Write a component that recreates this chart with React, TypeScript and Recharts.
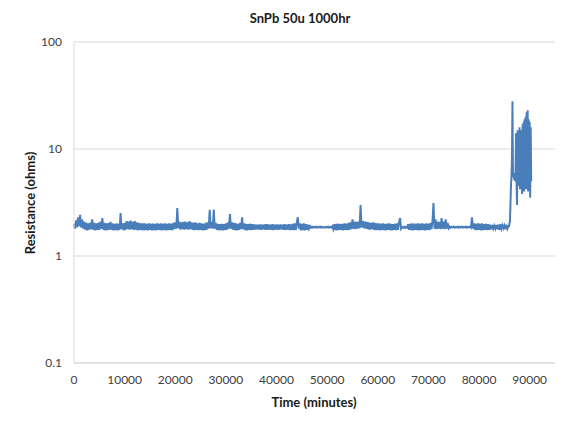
import { LineChart, Line, XAxis, YAxis, CartesianGrid } from "recharts";

// resistance log, stable part, one reading every 200 min
const BASE_START = 0;
const BASE_STEP = 200;
const baseValues: number[] = [
    2.0, 1.8, 2.15, 1.85, 2.3, 1.9, 2.42, 1.85, 2.2, 1.8,
    2.1, 1.76, 2.05, 1.74, 2.02, 1.76, 2.05, 1.78, 2.2, 1.76,
    2.04, 1.74, 2.02, 1.76, 2.04, 1.75, 2.1, 1.8, 2.26, 1.76,
    2.04, 1.74, 2.02, 1.75, 2.03, 1.76, 2.08, 1.76, 2.02, 1.74,
    2.0, 1.75, 2.02, 1.74, 2.0, 1.76, 2.52, 1.78, 2.02, 1.74,
    // 10000
    2.04, 1.76, 2.12, 1.78, 2.1, 1.76, 2.14, 1.78, 2.08, 1.75,
    2.12, 1.76, 2.06, 1.74, 2.04, 1.76, 2.02, 1.75, 2.02, 1.74,
    2.02, 1.75, 2.0, 1.74, 2.02, 1.76, 2.0, 1.74, 2.01, 1.75,
    2.0, 1.74, 2.02, 1.76, 2.0, 1.75, 2.02, 1.74, 2.0, 1.76,
    2.02, 1.74, 2.0, 1.75, 2.02, 1.76, 2.0, 1.74, 2.04, 1.78,
    // 20000
    2.06, 1.8, 2.81, 1.82, 2.1, 1.76, 2.06, 1.78, 2.08, 1.76,
    2.1, 1.78, 2.06, 1.76, 2.12, 1.78, 2.06, 1.76, 2.04, 1.75,
    2.06, 1.76, 2.02, 1.75, 2.04, 1.76, 2.02, 1.74, 2.0, 1.75,
    2.04, 1.76, 2.06, 1.8, 2.7, 1.82, 2.08, 1.8, 2.72, 1.8,
    2.04, 1.76, 2.0, 1.74, 1.98, 1.75, 2.0, 1.74, 1.98, 1.75,
    // 30000
    2.02, 1.76, 2.06, 1.8, 2.47, 1.8, 2.06, 1.76, 2.04, 1.75,
    2.02, 1.74, 2.0, 1.76, 2.04, 1.78, 2.3, 1.78, 2.02, 1.75,
    2.0, 1.74, 1.98, 1.76, 2.0, 1.75, 1.98, 1.76, 1.97, 1.77,
    1.96, 1.78, 1.96, 1.77, 1.97, 1.76, 1.96, 1.78, 1.97, 1.76,
    1.98, 1.76, 1.97, 1.77, 1.96, 1.76, 1.98, 1.75, 1.96, 1.77,
    // 40000
    1.97, 1.76, 1.96, 1.77, 1.97, 1.78, 1.96, 1.76, 1.98, 1.76,
    1.96, 1.77, 1.98, 1.75, 1.97, 1.76, 2.0, 1.75, 2.02, 1.76,
    2.04, 2.3, 1.8, 2.02, 1.74, 2.0, 1.75, 2.02, 1.74, 1.98,
    1.76, 1.96, 1.8, 1.9, 1.84, 1.88, 1.84, 1.87, 1.85, 1.88,
    1.84, 1.87, 1.85, 1.88, 1.84, 1.87, 1.85, 1.86, 1.84, 1.87,
    // 50000
    1.85, 1.88, 1.84, 1.87, 1.85, 1.9, 1.78, 1.98, 1.75, 2.0,
    1.74, 2.0, 1.76, 1.98, 1.75, 2.0, 1.74, 2.02, 1.76, 2.0,
    1.75, 2.04, 1.76, 2.06, 1.78, 2.2, 1.8, 2.1, 1.78, 2.08,
    1.8, 2.1, 1.82, 2.99, 1.85, 2.12, 1.82, 2.1, 1.8, 2.08,
    1.78, 2.06, 1.76, 2.04, 1.78, 2.06, 1.76, 2.04, 1.75, 2.02,
    // 60000
    1.76, 2.02, 1.74, 2.0, 1.76, 2.02, 1.75, 2.0, 1.74, 2.0,
    1.76, 2.02, 1.75, 2.0, 1.74, 1.98, 1.76, 2.0, 1.75, 2.02,
    1.76, 2.06, 2.26, 1.8, 1.86, 1.84, 1.88, 1.83, 1.87, 1.84,
    1.98, 1.76, 2.0, 1.75, 2.02, 1.74, 2.0, 1.76, 2.0, 1.75,
    2.02, 1.74, 2.0, 1.76, 2.02, 1.75, 2.0, 1.74, 2.02, 1.76,
    // 70000
    2.0, 1.75, 2.04, 1.78, 2.1, 3.13, 1.8, 2.2, 1.78, 2.1,
    1.8, 2.08, 1.78, 2.26, 1.8, 2.1, 1.78, 2.2, 1.8, 2.04,
    1.82, 1.88, 1.84, 1.87, 1.85, 1.88, 1.84, 1.87, 1.85, 1.88,
    1.84, 1.87, 1.85, 1.88, 1.84, 1.87, 1.85, 1.88, 1.84, 1.87,
    1.85, 1.88, 1.84, 2.3, 1.8, 2.02, 1.76, 2.0, 1.75, 2.02,
    // 80000
    1.76, 2.0, 1.74, 2.02, 1.75, 1.98, 1.76, 2.0, 1.75, 1.98,
    1.76, 1.96, 1.78, 1.95, 1.8, 1.92, 1.8, 1.95, 1.78, 1.96,
    1.76, 1.98, 1.8, 1.94, 1.82, 1.93, 1.78, 1.96, 1.8, 1.9,
];

// failure, one reading every 100 min
const FAIL_START = 85900;
const FAIL_STEP = 100;
const failValues: number[] = [
    1.9, 2.0, 2.1, 3.0, 4.5, 5.5, 8, 28, 5.5, 6.0,
    5.2, 5.8, 5.0, 5.6, 14, 5.0, 3.0, 15, 4.5, 13,
    4.8, 16, 4.2, 14, 5.0, 15, 3.8, 17, 4.5, 18,
    4.0, 19, 5.0, 20, 4.2, 22, 4.5, 23, 4.0, 19,
    5.0, 18, 3.5, 16, 5.0,
];

const xTicks = [0, 10000, 20000, 30000, 40000, 50000, 60000, 70000, 80000, 90000];
const yTicks = [0.1, 1, 10, 100];

const data = [
    ...baseValues.map((v, i) => ({ t: BASE_START + i * BASE_STEP, r: v })),
    ...failValues.map((v, i) => ({ t: FAIL_START + i * FAIL_STEP, r: v })),
];

const FONT = "Lato, 'Open Sans', sans-serif";

export default function App() {
    return (
        <div style={{ position: "relative", width: 577, height: 421, margin: -8, overflow: "hidden", background: "#fff", fontFamily: FONT }}>
            <div style={{ position: "absolute", left: 5, top: 2, width: 640, height: 480, border: "1px solid #8e8e8e" }} />
            <div style={{ position: "absolute", left: 0, width: 600, top: 10, textAlign: "center", fontWeight: 700, fontSize: 13, color: "#1a1a1a" }}>
                SnPb 50u 1000hr
            </div>
            <div
                style={{
                    position: "absolute",
                    left: 30,
                    top: 203,
                    transform: "translate(-50%, -50%) rotate(-90deg)",
                    whiteSpace: "nowrap",
                    fontWeight: 700,
                    fontSize: 13,
                    color: "#1a1a1a",
                }}
            >
                Resistance (ohms)
            </div>
            <div style={{ position: "absolute", left: 74, width: 480, top: 394, textAlign: "center", fontWeight: 700, fontSize: 13, color: "#1a1a1a" }}>
                Time (minutes)
            </div>
            <div style={{ position: "absolute", left: 0, top: 0 }}>
                <LineChart width={577} height={421} data={data} margin={{ top: 42, right: 22, left: 14, bottom: 28 }}>
                    <CartesianGrid vertical={false} stroke="#d9d9d9" />
                    <XAxis
                        dataKey="t"
                        type="number"
                        domain={[0, 95000]}
                        ticks={xTicks}
                        tickLine={false}
                        tickMargin={6}
                        axisLine={{ stroke: "#d9d9d9" }}
                        tick={{ fill: "#404040", fontSize: 12, fontFamily: FONT }}
                        height={30}
                    />
                    <YAxis
                        scale="log"
                        domain={[0.1, 100]}
                        ticks={yTicks}
                        allowDataOverflow
                        tickLine={false}
                        tickMargin={6}
                        axisLine={{ stroke: "#d9d9d9" }}
                        tick={{ fill: "#404040", fontSize: 12, fontFamily: FONT }}
                        tickFormatter={(v: number) => String(v)}
                        width={60}
                    />
                    <Line
                        type="linear"
                        dataKey="r"
                        stroke="#4a7ebb"
                        strokeWidth={2}
                        dot={false}
                        isAnimationActive={false}
                    />
                </LineChart>
            </div>
        </div>
    );
}
